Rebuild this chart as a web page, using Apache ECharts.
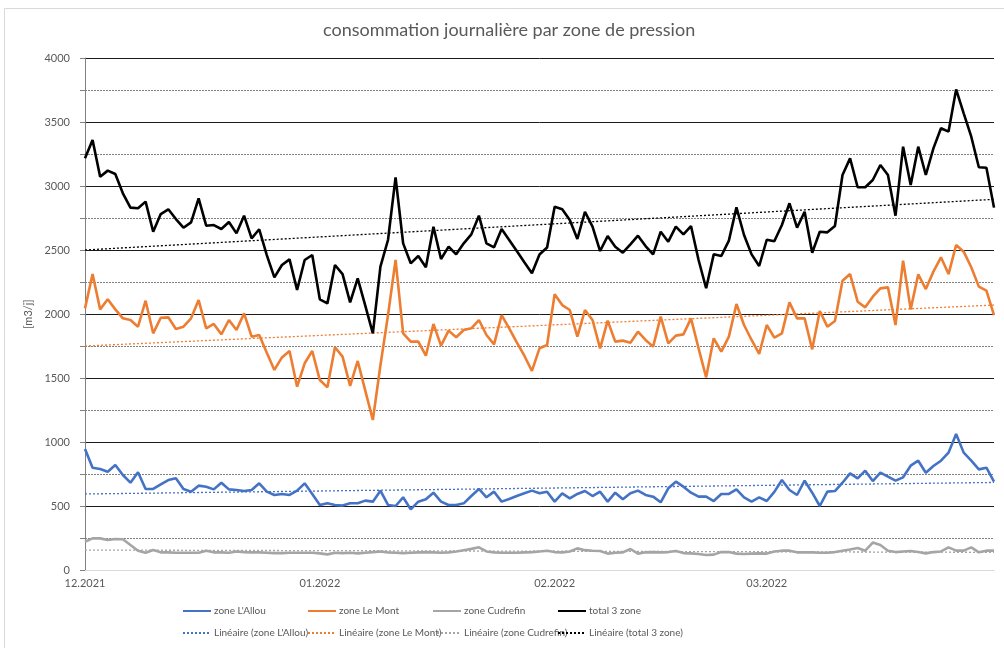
<!DOCTYPE html>
<html>
<head>
<meta charset="utf-8">
<script src="https://cdn.jsdelivr.net/npm/echarts@6/dist/echarts.min.js"></script>
<style>html,body{margin:0;padding:0;background:#fff;}#c{width:1004px;height:648px;}</style>
</head>
<body>
<div id="c"></div>
<script>
// Days from 01.12.2021 to 31.03.2022
const startDay = [2021, 11, 1];
const dayCount = 121;
const yTicks = [0, 500, 1000, 1500, 2000, 2500, 3000, 3500, 4000];

const allou = [945,799,789,768,820,742,682,763,633,633,669,703,716,633,612,659,651,630,682,630,625,617,625,677,612,586,594,586,620,677,594,508,521,508,503,521,521,542,534,620,508,500,568,474,534,552,604,534,508,508,521,578,633,568,612,534,555,578,599,620,599,612,534,599,560,594,617,578,612,534,604,552,599,620,586,573,529,638,690,651,604,573,573,539,594,594,630,568,534,568,539,610,703,625,586,698,604,500,612,617,682,755,716,776,695,760,729,698,724,815,854,760,812,854,917,1063,917,854,786,799,690];
const leMont = [2044,2312,2036,2115,2036,1966,1953,1901,2104,1849,1971,1974,1883,1901,1966,2109,1888,1922,1841,1953,1875,2005,1823,1836,1698,1563,1661,1711,1432,1615,1711,1484,1427,1740,1667,1438,1633,1401,1172,1600,1990,2422,1849,1784,1784,1674,1922,1753,1870,1818,1875,1888,1953,1836,1763,1992,1888,1779,1674,1555,1732,1758,2154,2070,2031,1823,2031,1953,1732,1948,1784,1792,1776,1862,1797,1745,1979,1771,1831,1841,1966,1732,1505,1810,1706,1823,2078,1914,1797,1688,1914,1816,1849,2091,1966,1966,1724,2023,1901,1945,2260,2312,2096,2052,2135,2200,2208,1914,2417,2036,2310,2195,2331,2443,2312,2539,2487,2365,2214,2183,1992];
const cudrefin = [221,247,247,234,242,240,195,151,135,156,138,138,135,135,135,135,151,138,138,135,145,140,138,138,135,132,132,135,135,135,135,130,122,135,132,135,130,135,140,145,138,135,132,135,138,140,138,135,138,145,155,165,177,145,138,135,135,135,138,140,145,150,140,138,145,169,155,150,148,128,135,138,164,128,138,140,138,140,148,132,130,125,117,120,140,140,128,125,128,130,128,145,151,151,138,138,138,135,135,140,151,160,172,151,214,195,151,140,145,148,140,130,140,145,177,151,151,177,138,151,151];
const total3 = [3216,3359,3073,3120,3094,2943,2831,2826,2878,2643,2781,2818,2742,2674,2716,2904,2690,2695,2664,2719,2630,2768,2591,2662,2460,2286,2383,2427,2188,2422,2461,2115,2083,2383,2312,2091,2279,2065,1849,2370,2578,3068,2552,2396,2453,2365,2682,2430,2526,2466,2552,2622,2768,2552,2521,2664,2578,2492,2404,2318,2465,2520,2838,2818,2734,2586,2799,2682,2492,2609,2526,2479,2544,2612,2531,2466,2643,2565,2682,2622,2687,2422,2201,2466,2453,2573,2833,2617,2466,2375,2580,2568,2695,2865,2674,2799,2479,2643,2638,2687,3086,3216,2990,2990,3047,3164,3086,2768,3307,3008,3307,3086,3294,3451,3425,3755,3568,3385,3146,3143,2831];

// Trend lines (start value, end value)
const trendAllou = [594, 684];
const trendLeMont = [1750, 2070];
const trendCudrefin = [156, 138];
const trendTotal = [2500, 2896];

const names = ["zone L'Allou", "zone Le Mont", "zone Cudrefin", "total 3 zone"];
const trendNames = ["Linéaire (zone L'Allou)", "Linéaire (zone Le Mont)", "Linéaire (zone Cudrefin)", "Linéaire (total 3 zone)"];
const colors = ['#4472C4', '#ED7D31', '#A5A5A5', '#000000'];

const categories = [];
for (let i = 0; i < dayCount; i++) {
  const d = new Date(startDay[0], startDay[1], startDay[2] + i);
  const dd = String(d.getDate()).padStart(2, '0');
  const mm = String(d.getMonth() + 1).padStart(2, '0');
  categories.push(dd + '.' + mm + '.' + d.getFullYear());
}

const seriesData = [allou, leMont, cudrefin, total3];
const trends = [trendAllou, trendLeMont, trendCudrefin, trendTotal];
const last = dayCount - 1;

const series = [];
seriesData.forEach((arr, i) => {
  series.push({
    name: names[i], type: 'line', data: arr, symbol: 'none', z: 3,
    lineStyle: { color: colors[i], width: 2.6 }, itemStyle: { color: colors[i] }
  });
});
trends.forEach((t, i) => {
  series.push({
    name: trendNames[i], type: 'line', data: [[0, t[0]], [last, t[1]]], symbol: 'none', z: 2,
    lineStyle: { color: colors[i], width: 1.3, type: [2, 2] }, itemStyle: { color: colors[i] }
  });
});

const legCols = [182, 307, 432, 557];
const legBase = { padding: 0, itemWidth: 28, itemHeight: 12, selectedMode: false,
  itemStyle: { opacity: 0 },
  textStyle: { color: '#595959', fontSize: 10, fontFamily: 'Lato', padding: [0, 0, 0, -2] } };
const legends = [];
for (let i = 0; i < 4; i++) {
  legends.push(Object.assign({}, legBase, { data: [names[i]], left: legCols[i], top: 606 }));
  legends.push(Object.assign({}, legBase, { data: [trendNames[i]], left: legCols[i], top: 628 }));
}

const splitColors = yTicks.map((v, i) => i === 0 ? '#d9d9d9' : '#1a1a1a');

const chart = echarts.init(document.getElementById('c'));
chart.setOption({
  animation: false,
  backgroundColor: '#fff',
  graphic: [{ type: 'rect', shape: { x: 4.5, y: 8.5, width: 1010, height: 650 }, style: { fill: 'none', stroke: '#d9d9d9', lineWidth: 1 }, z: -1 }],
  title: { text: 'consommation journalière par zone de pression', left: 323, top: 21, padding: 0,
    textStyle: { fontFamily: 'Lato', fontSize: 18, fontWeight: 'normal', color: '#595959' } },
  legend: legends,
  grid: { left: 85, right: 10, top: 58, bottom: 78 },
  xAxis: {
    type: 'category', data: categories, boundaryGap: false,
    axisLine: { lineStyle: { color: '#d9d9d9' } },
    axisTick: { show: false },
    axisLabel: {
      interval: (idx, val) => val.startsWith('01.'),
      formatter: v => v.slice(3),
      color: '#595959', fontSize: 11, fontFamily: 'Lato', margin: 8
    },
    splitLine: { show: false }
  },
  yAxis: {
    type: 'value', min: yTicks[0], max: yTicks[yTicks.length - 1], interval: 500,
    name: '[m3/j]', nameLocation: 'middle', nameRotate: 90, nameGap: 46,
    nameTextStyle: { color: '#595959', fontSize: 11, fontFamily: 'Lato' },
    axisLine: { show: true, lineStyle: { color: '#808080' } },
    axisTick: { show: true, length: 5, lineStyle: { color: '#808080' } },
    minorTick: { show: true, splitNumber: 2, length: 5, lineStyle: { color: '#808080' } },
    axisLabel: { color: '#595959', fontSize: 11, fontFamily: 'Lato', margin: 15, formatter: v => String(v) },
    splitLine: { show: true, lineStyle: { color: splitColors, width: 1 } },
    minorSplitLine: { show: true, lineStyle: { color: '#808080', width: 1, type: [2, 1] } }
  },
  series: series
});
</script>
</body>
</html>
